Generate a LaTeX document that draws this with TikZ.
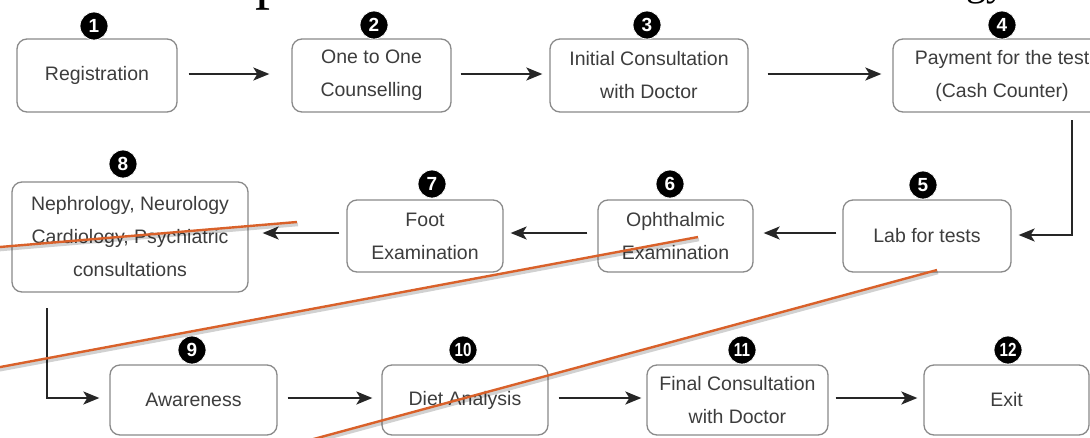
\documentclass[tikz,border=0pt]{standalone}
\usepackage{fontspec}
\setmainfont{Liberation Sans}
\newfontfamily\headfont{Liberation Serif}
\usetikzlibrary{arrows.meta}

\definecolor{boxline}{HTML}{8A8A8A}
\definecolor{boxtext}{HTML}{3D3D3D}
\definecolor{arrowcol}{HTML}{262626}
\definecolor{strike}{HTML}{D9612A}

\tikzset{
  stepbox/.style={draw=boxline, line width=1.3pt, rounded corners=10pt,
    fill=white, text=boxtext, align=center, inner sep=0pt,
    font=\fontsize{19.5}{33}\selectfont},
  badge/.style={circle, fill=black, draw=white, line width=0.8pt,
    minimum size=28pt, inner sep=0pt, text=white,
    font=\fontsize{19}{19}\selectfont\bfseries},
  flow/.style={draw=arrowcol, line width=2pt,
    -{Stealth[length=16pt,width=13pt,inset=4pt]}},
  strikeline/.style={draw=strike, line width=2.4pt},
  strikeshade/.style={draw=black, line width=3.5pt, opacity=0.18},
}

\begin{document}
\begin{tikzpicture}[x=1pt,y=-1pt]
  \useasboundingbox (0,0) rectangle (1090,437);
  \fill[white] (0,0) rectangle (1090,437);

  % heading line above, only its descenders fall inside the page
  \begin{scope}
    \clip (0,0) rectangle (1090,437);
    \node[anchor=base west, inner sep=0pt, font=\headfont\fontsize{60}{60}\selectfont] (hp) at (255,-3) {p};
    \node[anchor=base west, inner sep=0pt, font=\headfont\fontsize{40}{40}\selectfont] (hgy) at (966,-4.5) {gy};
  \end{scope}

  % process steps
  \node[stepbox, minimum width=160pt, minimum height=73pt] (b1) at (97,75.5) {Registration};
  \node[stepbox, minimum width=159pt, minimum height=73pt] (b2) at (371.5,75.5) {One to One\\Counselling};
  \node[stepbox, minimum width=198pt, minimum height=73pt] (b3) at (649,75.5) {Initial Consultation\\with Doctor};
  \node[stepbox, minimum width=218pt, minimum height=73pt] (b4) at (1002,75.5) {Payment for the test\\(Cash Counter)};

  \node[stepbox, minimum width=168pt, minimum height=72pt] (b5) at (927,236) {Lab for tests};
  \node[stepbox, minimum width=155pt, minimum height=72pt] (b6) at (675.5,236) {Ophthalmic\\Examination};
  \node[stepbox, minimum width=156pt, minimum height=72pt] (b7) at (425,236) {Foot\\Examination};
  \node[stepbox, minimum width=236pt, minimum height=110pt] (b8) at (130,237) {Nephrology, Neurology\\Cardiology, Psychiatric\\consultations};

  \node[stepbox, minimum width=167pt, minimum height=70pt] (b9) at (193.5,400) {Awareness};
  \node[stepbox, minimum width=166pt, minimum height=70pt] (b10) at (465,400) {Diet Analysis};
  \node[stepbox, minimum width=181pt, minimum height=70pt] (b11) at (737.5,400) {Final Consultation\\with Doctor};
  \node[stepbox, minimum width=165pt, minimum height=70pt] (b12) at (1006.5,400) {Exit};

  % step numbers
  \node[badge] (n1) at (94,26) {1};
  \node[badge] (n2) at (374,25) {2};
  \node[badge] (n3) at (647,25) {3};
  \node[badge] (n4) at (1002,25) {4};
  \node[badge] (n5) at (923,185) {5};
  \node[badge] (n6) at (670,184) {6};
  \node[badge] (n7) at (432,184) {7};
  \node[badge] (n8) at (123,164) {8};
  \node[badge] (n9) at (192,350) {9};
  \node[badge] (n10) at (463,350) {\scalebox{0.8}[1]{10}};
  \node[badge] (n11) at (742,350) {\scalebox{0.8}[1]{11}};
  \node[badge] (n12) at (1008,350) {\scalebox{0.8}[1]{12}};

  % top row
  \draw[flow] ([xshift=11pt,yshift=1.5pt]b1.east) -- ([xshift=-22pt,yshift=1.5pt]b2.west);
  \draw[flow] ([xshift=9pt,yshift=1.5pt]b2.east) -- ([xshift=-7pt,yshift=1.5pt]b3.west);
  \draw[flow] ([xshift=19pt,yshift=1.5pt]b3.east) -- ([xshift=-11pt,yshift=1.5pt]b4.west);

  % down to the lab
  \coordinate (t45) at (1072,120);
  \draw[flow] (t45) |- ([xshift=7pt,yshift=1pt]b5.east);

  % middle row, right to left
  \draw[flow] ([xshift=-6pt,yshift=3pt]b5.west) -- ([xshift=10pt,yshift=3pt]b6.east);
  \draw[flow] ([xshift=-10pt,yshift=3pt]b6.west) -- ([xshift=7pt,yshift=3pt]b7.east);
  \draw[flow] ([xshift=-7pt,yshift=3pt]b7.west) -- ([xshift=14pt,yshift=4pt]b8.east);

  % down to the bottom row
  \coordinate (t89) at (47,308);
  \draw[flow] (t89) |- ([xshift=-10pt,yshift=2pt]b9.west);

  % bottom row
  \draw[flow] ([xshift=10pt,yshift=2pt]b9.east) -- ([xshift=-9pt,yshift=2pt]b10.west);
  \draw[flow] ([xshift=10pt,yshift=2pt]b10.east) -- ([xshift=-5pt,yshift=2pt]b11.west);
  \draw[flow] ([xshift=7pt,yshift=2pt]b11.east) -- ([xshift=-6pt,yshift=2pt]b12.west);

  % orange strokes drawn across the chart
  \coordinate (s1a) at (-5,247.4);
  \coordinate (s1b) at (297,222);
  \coordinate (s2a) at (-5,368);
  \coordinate (s2b) at (698,237);
  \coordinate (s3a) at (937,270);
  \coordinate (s3b) at (310,440);

  \foreach \a/\b in {s1a/s1b, s2a/s2b, s3a/s3b}{
    \draw[strikeshade] ([shift={(1,2.5)}]\a) -- ([shift={(1,2.5)}]\b);
    \draw[strikeline] (\a) -- (\b);
  }
\end{tikzpicture}
\end{document}
